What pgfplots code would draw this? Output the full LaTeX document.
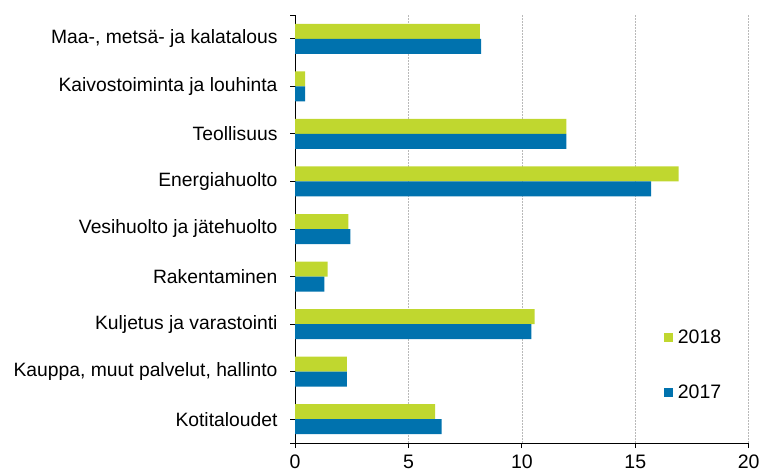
\documentclass[border=0pt]{standalone}
\usepackage{pgfplots}
\pgfplotsset{compat=1.18}
\usepackage{fontspec}
\setmainfont{Liberation Sans}
\definecolor{cgreen}{HTML}{C0D72F}
\definecolor{cblue}{HTML}{0072AE}
\begin{document}
\begin{tikzpicture}[x=1pt,y=1pt]
\path[use as bounding box] (0,0) rectangle (762,472);
\begin{axis}[
  at={(295pt,29pt)}, anchor=south west,
  scale only axis, width=453.7pt, height=428pt,
  xbar, bar width=15pt,
  xmin=0, xmax=20, ymin=-0.5, ymax=8.5,
  xtick={0,5,10,15,20},
  ytick={0,...,8},
  yticklabels={Kotitaloudet, {Kauppa, muut palvelut, hallinto\hspace{5pt}}, Kuljetus ja varastointi, Rakentaminen, Vesihuolto ja jätehuolto, Energiahuolto, Teollisuus, Kaivostoiminta ja louhinta, {Maa-, metsä- ja kalatalous}},
  extra y ticks={-0.5,8.5}, extra y tick labels={},
  axis lines*=left,
  x axis line style={-}, y axis line style={-},
  xtick pos=bottom, ytick pos=left,
  tick align=outside, major tick length=5pt,
  tick style={black, line width=0.8pt},
  axis line style={black, line width=0.8pt},
  xmajorgrids=true,
  major grid style={draw=gray!55, dash pattern=on 2pt off 1pt, line width=0.6pt},
  /pgf/number format/assume math mode=true,
  yticklabel style={font=\fontsize{19.3}{22}\selectfont, xshift=-9pt},
  xticklabel style={font=\fontsize{19.5}{22}\selectfont, yshift=-3.5pt},
  legend style={at={(rel axis cs:0.807,0.274)}, anchor=north west, draw=none, fill=none,
    font=\fontsize{19.5}{22}\selectfont, row sep=36pt, column sep=3pt, legend cell align=left},
  legend image code/.code={\fill[#1] (0pt,-4.5pt) rectangle (8.5pt,4.5pt);},
]
\addplot[fill=cgreen, draw=none, bar shift=7.5pt] coordinates {
(8.15,8) (0.45,7) (11.96,6) (16.91,5) (2.35,4) (1.44,3) (10.56,2) (2.29,1) (6.18,0)};
\addplot[fill=cblue, draw=none, bar shift=-7.5pt] coordinates {
(8.21,8) (0.45,7) (11.96,6) (15.70,5) (2.44,4) (1.29,3) (10.42,2) (2.29,1) (6.46,0)};
\legend{2018,2017}
\end{axis}
\end{tikzpicture}
\end{document}
